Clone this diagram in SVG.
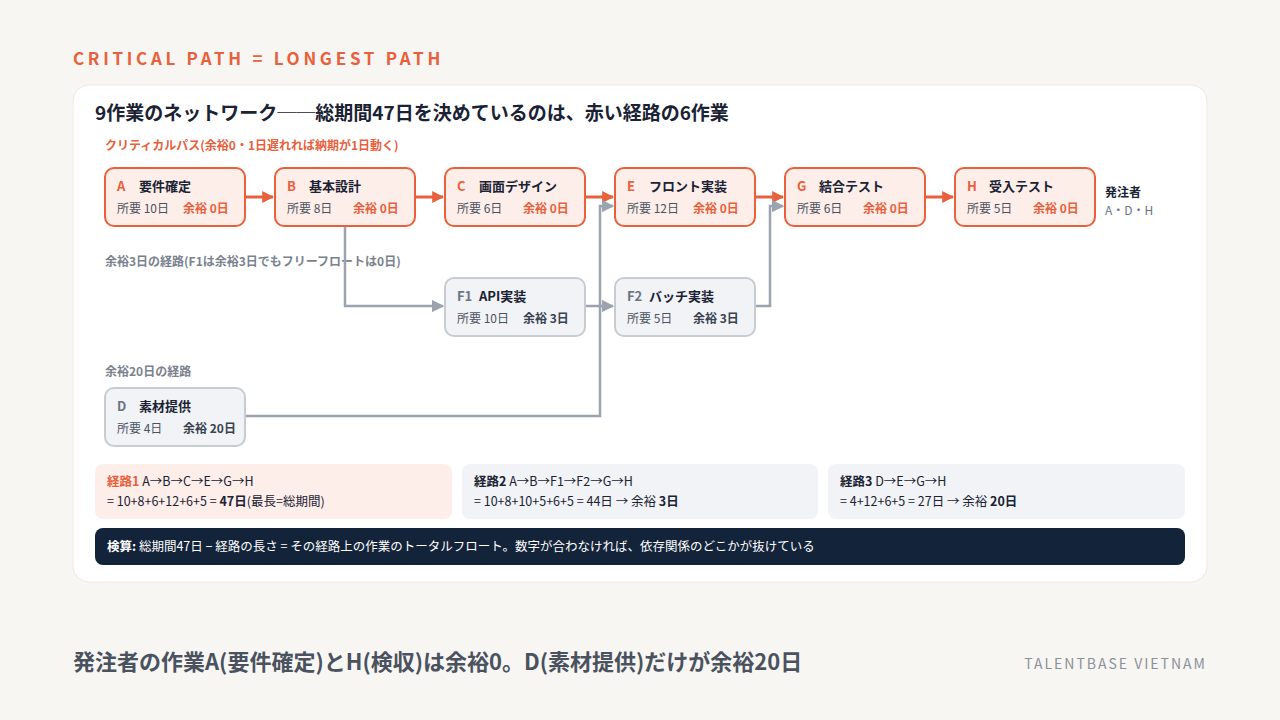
<svg xmlns="http://www.w3.org/2000/svg" width="1280" height="720" viewBox="0 0 1280 720">
<style>
text{font-family:"Noto Sans CJK JP","Noto Sans",sans-serif}
.crit rect{fill:#fdeee9;stroke:#e8603c;stroke-width:2}
.slack rect{fill:#f1f3f6;stroke:#c7ccd3;stroke-width:2}
.id{font-size:13px;font-weight:700}
.crit .id{fill:#e8603c}.slack .id{fill:#6b7482}
.nm{font-size:13px;font-weight:700;fill:#1a2233}
.dur{font-size:12px;fill:#4a5260}
.fl{font-size:12px;font-weight:700}
.crit .fl{fill:#e8603c}.slack .fl{fill:#3a4250}
.red{fill:none;stroke:#e8603c;stroke-width:3}
.gray{fill:none;stroke:#9aa3ae;stroke-width:2.5}
.sec{font-size:12px;font-weight:700}
.sm{font-size:12.5px;fill:#1a2233}
</style>
<defs>
<marker id="ar" viewBox="0 0 10 10" refX="9" refY="5" markerWidth="4" markerHeight="4" orient="auto"><path d="M0,0L10,5L0,10z" fill="#e8603c"/></marker>
<marker id="ag" viewBox="0 0 10 10" refX="9" refY="5" markerWidth="5" markerHeight="5" orient="auto"><path d="M0,0L10,5L0,10z" fill="#9aa3ae"/></marker>
</defs>
<rect width="1280" height="720" fill="#f8f6f3"/>
<text x="73" y="65" font-size="17" font-weight="700" fill="#e8603c" letter-spacing="3.7">CRITICAL PATH = LONGEST PATH</text>
<rect x="73" y="85" width="1134" height="497" rx="16" fill="#fff" stroke="#ece9e4"/>
<text x="95" y="120" font-size="19" font-weight="700" fill="#1a2233">9作業のネットワーク──総期間47日を決めているのは、赤い経路の6作業</text>
<text x="105" y="150" class="sec" fill="#e8603c">クリティカルパス(余裕0・1日遅れれば納期が1日動く)</text>
<text x="105" y="266" class="sec" fill="#7a828e">余裕3日の経路(F1は余裕3日でもフリーフロートは0日)</text>
<text x="105" y="376" class="sec" fill="#7a828e">余裕20日の経路</text>
<g id="connectors">
<path class="red" d="M245,197H273" marker-end="url(#ar)"/>
<path class="red" d="M415,197H443" marker-end="url(#ar)"/>
<path class="red" d="M585,197H613" marker-end="url(#ar)"/>
<path class="red" d="M755,197H783" marker-end="url(#ar)"/>
<path class="red" d="M925,197H953" marker-end="url(#ar)"/>
<path class="gray" d="M345,226V306H443" marker-end="url(#ag)"/>
<path class="gray" d="M585,306H613" marker-end="url(#ag)"/>
<path class="gray" d="M755,306H770V206H783" marker-end="url(#ag)"/>
<path class="gray" d="M245,416H600V206H613" marker-end="url(#ag)"/>
</g>
<g id="A" class="crit"><rect x="105" y="168" width="140" height="58" rx="9"/><text x="117" y="191" class="id">A</text><text x="139" y="191" class="nm">要件確定</text><text x="117" y="213" class="dur">所要 10日</text><text x="183" y="213" class="fl">余裕 0日</text></g>
<g id="B" class="crit"><rect x="275" y="168" width="140" height="58" rx="9"/><text x="287" y="191" class="id">B</text><text x="309" y="191" class="nm">基本設計</text><text x="287" y="213" class="dur">所要 8日</text><text x="353" y="213" class="fl">余裕 0日</text></g>
<g id="C" class="crit"><rect x="445" y="168" width="140" height="58" rx="9"/><text x="457" y="191" class="id">C</text><text x="479" y="191" class="nm">画面デザイン</text><text x="457" y="213" class="dur">所要 6日</text><text x="523" y="213" class="fl">余裕 0日</text></g>
<g id="E" class="crit"><rect x="615" y="168" width="140" height="58" rx="9"/><text x="627" y="191" class="id">E</text><text x="649" y="191" class="nm">フロント実装</text><text x="627" y="213" class="dur">所要 12日</text><text x="693" y="213" class="fl">余裕 0日</text></g>
<g id="G" class="crit"><rect x="785" y="168" width="140" height="58" rx="9"/><text x="797" y="191" class="id">G</text><text x="819" y="191" class="nm">結合テスト</text><text x="797" y="213" class="dur">所要 6日</text><text x="863" y="213" class="fl">余裕 0日</text></g>
<g id="H" class="crit"><rect x="955" y="168" width="140" height="58" rx="9"/><text x="967" y="191" class="id">H</text><text x="989" y="191" class="nm">受入テスト</text><text x="967" y="213" class="dur">所要 5日</text><text x="1033" y="213" class="fl">余裕 0日</text></g>
<g id="client"><text x="1105" y="197" font-size="12" font-weight="700" fill="#1a2233">発注者</text><text x="1105" y="215" font-size="12" fill="#6b7482">A・D・H</text></g>
<g id="F1" class="slack"><rect x="445" y="278" width="140" height="58" rx="9"/><text x="457" y="301" class="id">F1</text><text x="479" y="301" class="nm">API実装</text><text x="457" y="323" class="dur">所要 10日</text><text x="523" y="323" class="fl">余裕 3日</text></g>
<g id="F2" class="slack"><rect x="615" y="278" width="140" height="58" rx="9"/><text x="627" y="301" class="id">F2</text><text x="649" y="301" class="nm">バッチ実装</text><text x="627" y="323" class="dur">所要 5日</text><text x="693" y="323" class="fl">余裕 3日</text></g>
<g id="D" class="slack"><rect x="105" y="388" width="140" height="58" rx="9"/><text x="117" y="411" class="id">D</text><text x="139" y="411" class="nm">素材提供</text><text x="117" y="433" class="dur">所要 4日</text><text x="183" y="433" class="fl">余裕 20日</text></g>
<rect x="95" y="464" width="357" height="55" rx="8" fill="#fdeee9"/>
<text x="107" y="486" class="sm"><tspan font-weight="700" fill="#e8603c">経路1</tspan> A→B→C→E→G→H</text>
<text x="107" y="506" class="sm">= 10+8+6+12+6+5 = <tspan font-weight="700">47日</tspan>(最長=総期間)</text>
<rect x="462" y="464" width="356" height="55" rx="8" fill="#f1f3f6"/>
<text x="474" y="486" class="sm"><tspan font-weight="700">経路2</tspan> A→B→F1→F2→G→H</text>
<text x="474" y="506" class="sm">= 10+8+10+5+6+5 = 44日 → 余裕 <tspan font-weight="700">3日</tspan></text>
<rect x="828" y="464" width="357" height="55" rx="8" fill="#f1f3f6"/>
<text x="840" y="486" class="sm"><tspan font-weight="700">経路3</tspan> D→E→G→H</text>
<text x="840" y="506" class="sm">= 4+12+6+5 = 27日 → 余裕 <tspan font-weight="700">20日</tspan></text>
<rect x="95" y="528" width="1090" height="37" rx="8" fill="#13233a"/>
<text x="107" y="551" font-size="12.5" fill="#fff"><tspan font-weight="700">検算:</tspan> 総期間47日 − 経路の長さ = その経路上の作業のトータルフロート。数字が合わなければ、依存関係のどこかが抜けている</text>
<text x="73" y="670" font-size="22" font-weight="700" fill="#4a5260">発注者の作業A(要件確定)とH(検収)は余裕0。D(素材提供)だけが余裕20日</text>
<text x="1207" y="669" font-size="14" fill="#8a919b" text-anchor="end" letter-spacing="2">TALENTBASE VIETNAM</text>
</svg>
